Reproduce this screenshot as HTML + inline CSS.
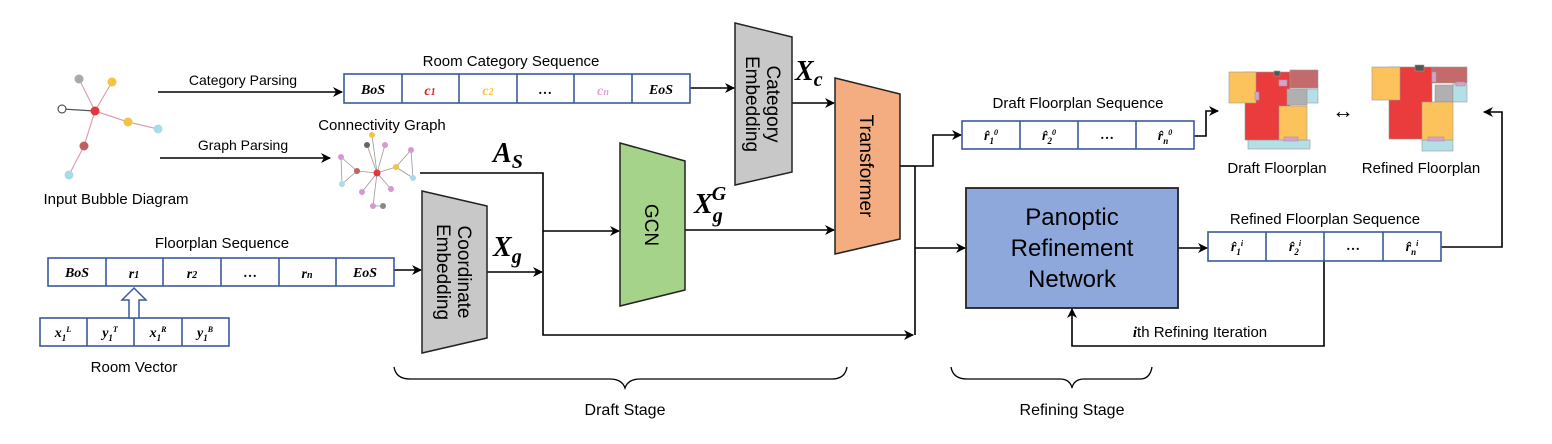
<!DOCTYPE html>
<html><head><meta charset="utf-8"><style>
html,body{margin:0;padding:0;background:#fff;}
svg{display:block;font-family:"Liberation Sans",sans-serif;}
.m{font-family:"Liberation Serif",serif;font-weight:bold;font-style:italic;}
</style></head><body>
<svg width="1552" height="444" viewBox="0 0 1552 444" xmlns="http://www.w3.org/2000/svg">
<defs>
<marker id="a" markerWidth="10" markerHeight="10" refX="9" refY="5" orient="auto" markerUnits="userSpaceOnUse"><path d="M0,0 L10,5 L0,10 L3,5 z" fill="#000"/></marker>
</defs>
<g stroke="#000" stroke-width="1.6" fill="none">
<g stroke="#d9a0b0" stroke-width="1.2">
<line x1="95" y1="111" x2="79" y2="79"/><line x1="95" y1="111" x2="112" y2="82"/>
<line x1="95" y1="111" x2="62" y2="109" stroke="#555"/><line x1="95" y1="111" x2="128" y2="122"/>
<line x1="128" y1="122" x2="158" y2="129"/><line x1="95" y1="111" x2="84" y2="146"/>
<line x1="84" y1="146" x2="69" y2="175"/>
</g>
<line x1="158" y1="92" x2="342" y2="92" marker-end="url(#a)"/>
<line x1="160" y1="158" x2="330" y2="158" marker-end="url(#a)"/>
<line x1="690" y1="88" x2="734" y2="88" marker-end="url(#a)"/>
<line x1="792" y1="103" x2="834" y2="103" marker-end="url(#a)"/>
<polyline points="420,173 543,173 543,335 913,335" marker-end="url(#a)"/>
<line x1="543" y1="231" x2="619" y2="231" marker-end="url(#a)"/>
<line x1="487" y1="272" x2="542" y2="272" marker-end="url(#a)"/>
<line x1="394" y1="270" x2="421" y2="270" marker-end="url(#a)"/>
<line x1="685" y1="230" x2="834" y2="230" marker-end="url(#a)"/>
<polyline points="900,166 915,166"/>
<line x1="915" y1="166" x2="915" y2="335"/>
<polyline points="915,166 933,166 933,135 961,135" marker-end="url(#a)"/>
<line x1="915" y1="248" x2="965" y2="248" marker-end="url(#a)"/>
<polyline points="1194,136 1206,136 1206,111 1218,111" marker-end="url(#a)"/>
<line x1="1178" y1="248" x2="1207" y2="248" marker-end="url(#a)"/>
<polyline points="1441,247 1502,247 1502,112 1484,112" marker-end="url(#a)"/>
<polyline points="1324,261 1324,346 1072,346 1072,309" marker-end="url(#a)"/>
<path d="M394,367 Q396,379 410,379 L610,379 Q622,379 625,388 Q628,379 640,379 L832,379 Q845,379 847,367" stroke-width="1.3"/>
<path d="M951,367 Q953,379 967,379 L1060,379 Q1070,379 1072,388 Q1074,379 1084,379 L1140,379 Q1150,379 1152,367" stroke-width="1.3"/>
</g>
<circle cx="95" cy="111" r="4.5" fill="#e8343b"/><circle cx="79" cy="79" r="4.5" fill="#aaa"/>
<circle cx="112" cy="82" r="4.5" fill="#f5c342"/><circle cx="62" cy="109" r="4" fill="#fff" stroke="#333"/>
<circle cx="128" cy="122" r="4.5" fill="#f5c342"/><circle cx="158" cy="129" r="4.5" fill="#a8dce6"/>
<circle cx="84" cy="146" r="4.5" fill="#c06060"/><circle cx="69" cy="175" r="4.5" fill="#a8dce6"/>
<text x="116" y="204" font-size="15" text-anchor="middle">Input Bubble Diagram</text>
<text x="243" y="85" font-size="14" text-anchor="middle">Category Parsing</text>
<text x="243" y="150" font-size="14" text-anchor="middle">Graph Parsing</text>
<text x="511" y="66" font-size="15" text-anchor="middle">Room Category Sequence</text>
<text x="382" y="130" font-size="15" text-anchor="middle">Connectivity Graph</text>
<g stroke="#999" stroke-width="0.8">
<line x1="377" y1="173" x2="372" y2="135"/><line x1="377" y1="173" x2="367" y2="145"/><line x1="377" y1="173" x2="385" y2="145"/>
<line x1="377" y1="173" x2="357" y2="171"/><line x1="377" y1="173" x2="396" y2="167"/><line x1="377" y1="173" x2="362" y2="192"/>
<line x1="377" y1="173" x2="391" y2="189"/><line x1="377" y1="173" x2="373" y2="206"/><line x1="357" y1="171" x2="341" y2="157"/>
<line x1="357" y1="171" x2="342" y2="184"/><line x1="396" y1="167" x2="411" y2="150"/><line x1="396" y1="167" x2="413" y2="178"/>
<line x1="411" y1="150" x2="413" y2="178"/><line x1="341" y1="157" x2="342" y2="184"/><line x1="373" y1="206" x2="383" y2="206"/>
</g>
<circle cx="377" cy="173" r="3.5" fill="#e8343b"/><circle cx="372" cy="135" r="3" fill="#f5c342"/><circle cx="367" cy="145" r="3" fill="#666"/>
<circle cx="385" cy="145" r="3" fill="#d49ad0"/><circle cx="357" cy="171" r="3" fill="#c06060"/><circle cx="396" cy="167" r="3" fill="#f5c342"/>
<circle cx="362" cy="192" r="3" fill="#d49ad0"/><circle cx="391" cy="189" r="3" fill="#d49ad0"/><circle cx="373" cy="206" r="3" fill="#d49ad0"/>
<circle cx="383" cy="206" r="3" fill="#888"/><circle cx="341" cy="157" r="3" fill="#d49ad0"/><circle cx="342" cy="184" r="3" fill="#a8dce6"/>
<circle cx="411" cy="150" r="3" fill="#d49ad0"/><circle cx="413" cy="178" r="3" fill="#a8dce6"/>
<g fill="#fff" stroke="#3a5a9c" stroke-width="1.6">
<rect x="344" y="74" width="346" height="29"/>
<line x1="402" y1="74" x2="402" y2="103"/><line x1="459" y1="74" x2="459" y2="103"/><line x1="517" y1="74" x2="517" y2="103"/>
<line x1="574" y1="74" x2="574" y2="103"/><line x1="632" y1="74" x2="632" y2="103"/>
<rect x="48" y="258" width="346" height="28"/>
<line x1="106" y1="258" x2="106" y2="286"/><line x1="163" y1="258" x2="163" y2="286"/><line x1="221" y1="258" x2="221" y2="286"/>
<line x1="279" y1="258" x2="279" y2="286"/><line x1="336" y1="258" x2="336" y2="286"/>
<rect x="40" y="318" width="189" height="28"/>
<line x1="87" y1="318" x2="87" y2="346"/><line x1="134" y1="318" x2="134" y2="346"/><line x1="182" y1="318" x2="182" y2="346"/>
<rect x="962" y="121" width="232" height="28"/>
<line x1="1020" y1="121" x2="1020" y2="149"/><line x1="1078" y1="121" x2="1078" y2="149"/><line x1="1136" y1="121" x2="1136" y2="149"/>
<rect x="1208" y="232" width="233" height="29"/>
<line x1="1266" y1="232" x2="1266" y2="261"/><line x1="1324" y1="232" x2="1324" y2="261"/><line x1="1383" y1="232" x2="1383" y2="261"/>
</g>
<g font-size="14" text-anchor="middle" class="m">
<text x="373" y="94">BoS</text><text x="430" y="95" fill="#e02020">c<tspan font-size="10">1</tspan></text>
<text x="488" y="95" fill="#f5c342">c<tspan font-size="10">2</tspan></text><text x="545" y="94" style="font-style:normal">…</text>
<text x="603" y="95" fill="#e0a0d0">c<tspan font-size="10">n</tspan></text><text x="661" y="94">EoS</text>
<text x="77" y="277">BoS</text><text x="134" y="278">r<tspan font-size="10">1</tspan></text><text x="192" y="278">r<tspan font-size="10">2</tspan></text>
<text x="250" y="277" style="font-style:normal">…</text><text x="307" y="278">r<tspan font-size="10">n</tspan></text><text x="365" y="277">EoS</text>
<text x="63" y="337">x<tspan font-size="9" dy="4">1</tspan><tspan font-size="8" dy="-9">L</tspan></text>
<text x="110" y="337">y<tspan font-size="9" dy="4">1</tspan><tspan font-size="8" dy="-9">T</tspan></text>
<text x="158" y="337">x<tspan font-size="9" dy="4">1</tspan><tspan font-size="8" dy="-9">R</tspan></text>
<text x="205" y="337">y<tspan font-size="9" dy="4">1</tspan><tspan font-size="8" dy="-9">B</tspan></text>
<text x="991" y="140">r̂<tspan font-size="9" dy="4">1</tspan><tspan font-size="8" dy="-9">0</tspan></text>
<text x="1049" y="140">r̂<tspan font-size="9" dy="4">2</tspan><tspan font-size="8" dy="-9">0</tspan></text>
<text x="1107" y="139" style="font-style:normal">…</text>
<text x="1165" y="140">r̂<tspan font-size="9" dy="4">n</tspan><tspan font-size="8" dy="-9">0</tspan></text>
<text x="1237" y="251">r̂<tspan font-size="9" dy="4">1</tspan><tspan font-size="8" dy="-9">i</tspan></text>
<text x="1295" y="251">r̂<tspan font-size="9" dy="4">2</tspan><tspan font-size="8" dy="-9">i</tspan></text>
<text x="1353" y="250" style="font-style:normal">…</text>
<text x="1412" y="251">r̂<tspan font-size="9" dy="4">n</tspan><tspan font-size="8" dy="-9">i</tspan></text>
</g>
<path d="M129,318 L129,300 L122,300 L134,288 L146,300 L139,300 L139,318 Z" fill="#fff" stroke="#3a5a9c" stroke-width="1.5"/>
<text x="222" y="248" font-size="15" text-anchor="middle">Floorplan Sequence</text>
<text x="134" y="372" font-size="15" text-anchor="middle">Room Vector</text>
<polygon points="735,23 792,37 792,172 735,185" fill="#c8c8c8" stroke="#222" stroke-width="1.5"/>
<polygon points="422,191 487,206 487,338 422,353" fill="#c8c8c8" stroke="#222" stroke-width="1.5"/>
<polygon points="620,143 685,161 685,290 620,306" fill="#a6d38a" stroke="#222" stroke-width="1.5"/>
<polygon points="835,78 900,94 900,239 835,254" fill="#f4ad80" stroke="#222" stroke-width="1.5"/>
<g font-size="19" text-anchor="middle">
<text transform="translate(763,104) rotate(90)"><tspan x="0" y="-4">Category</tspan><tspan x="0" y="17">Embedding</tspan></text>
<text transform="translate(454,272) rotate(90)"><tspan x="0" y="-4">Coordinate</tspan><tspan x="0" y="17">Embedding</tspan></text>
<text transform="translate(652,225) rotate(90)" y="7">GCN</text>
<text transform="translate(867,166) rotate(90)" y="7">Transformer</text>
</g>
<g font-size="28" class="m">
<text x="795" y="80">X<tspan font-size="20" dy="6">c</tspan></text>
<text x="493" y="162">A<tspan font-size="20" dy="6">S</tspan></text>
<text x="493" y="256">X<tspan font-size="20" dy="7">g</tspan></text>
<text x="694" y="213">X<tspan font-size="20" dy="9">g</tspan><tspan font-size="20" dx="-11" dy="-22">G</tspan></text>
</g>
<rect x="966" y="188" width="212" height="120" fill="#8fa8dc" stroke="#222" stroke-width="1.8"/>
<g font-size="24" text-anchor="middle"><text x="1072" y="225">Panoptic</text><text x="1072" y="256">Refinement</text><text x="1072" y="287">Network</text></g>
<text x="1078" y="108" font-size="15" text-anchor="middle">Draft Floorplan Sequence</text>
<text x="1325" y="224" font-size="15" text-anchor="middle">Refined Floorplan Sequence</text>
<text x="1200" y="337" font-size="15" text-anchor="middle"><tspan class="m">i</tspan>th Refining Iteration</text>
<g stroke="#999" stroke-width="0.6">
<rect x="1248" y="140" width="62" height="9" fill="#b5dfe6"/>
<rect x="1245" y="72" width="45" height="68" fill="#ea3c3c"/>
<rect x="1229" y="72" width="27" height="31" fill="#fcc35c"/>
<rect x="1290" y="70" width="28" height="18" fill="#c46a6a"/>
<rect x="1287" y="89" width="20" height="16" fill="#b0b0b0"/>
<rect x="1307" y="89" width="11" height="14" fill="#b5dfe6"/>
<rect x="1279" y="106" width="28" height="34" fill="#fcc35c"/>
<rect x="1274" y="71" width="6" height="5" fill="#555"/>
<rect x="1279" y="80" width="8" height="6" fill="#d9a0cf"/>
<rect x="1255" y="92" width="4" height="8" fill="#d9a0cf"/>
<rect x="1284" y="137" width="14" height="4" fill="#d9a0cf"/>
<rect x="1422" y="140" width="31" height="11" fill="#b5dfe6"/>
<rect x="1389" y="67" width="43" height="72" fill="#ea3c3c"/>
<rect x="1372" y="67" width="28" height="33" fill="#fcc35c"/>
<rect x="1432" y="67" width="35" height="16" fill="#c46a6a"/>
<rect x="1435" y="85" width="18" height="17" fill="#b0b0b0"/>
<rect x="1453" y="84" width="14" height="18" fill="#b5dfe6"/>
<rect x="1422" y="102" width="31" height="38" fill="#fcc35c"/>
<rect x="1415" y="65" width="9" height="6" fill="#555"/>
<rect x="1432" y="72" width="4" height="10" fill="#d9a0cf"/>
<rect x="1456" y="82" width="9" height="4" fill="#d9a0cf"/>
<rect x="1428" y="137" width="16" height="4" fill="#d9a0cf"/>
</g>
<text x="1343" y="118" font-size="22" font-weight="bold" text-anchor="middle">↔</text>
<text x="1277" y="173" font-size="15" text-anchor="middle">Draft Floorplan</text>
<text x="1421" y="173" font-size="15" text-anchor="middle">Refined Floorplan</text>
<text x="625" y="415" font-size="16" text-anchor="middle">Draft Stage</text>
<text x="1072" y="415" font-size="16" text-anchor="middle">Refining Stage</text>
</svg>
</body></html>
